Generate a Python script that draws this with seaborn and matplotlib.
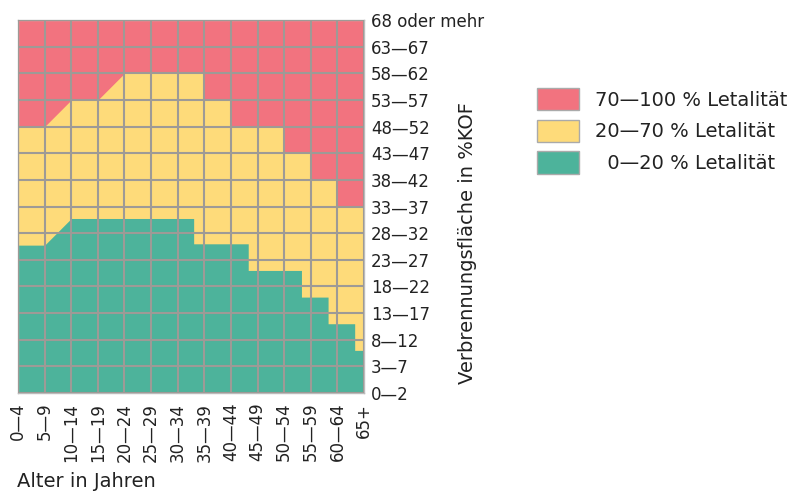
import numpy as np
import pandas as pd
import seaborn as sns
import matplotlib
matplotlib.use("Agg")
import matplotlib.pyplot as plt
from matplotlib.patches import Patch

# ---- data -------------------------------------------------------------
age_labels = ["0—4", "5—9", "10—14", "15—19", "20—24", "25—29", "30—34",
              "35—39", "40—44", "45—49", "50—54", "55—59", "60—64", "65+"]
burn_labels = ["0—2", "3—7", "8—12", "13—17", "18—22", "23—27", "28—32",
               "33—37", "38—42", "43—47", "48—52", "53—57", "58—62",
               "63—67", "68 oder mehr"]

# upper border of the 20-70 % zone (column position, row position)
yellow_x = [0, 1, 2, 3, 4, 7, 7, 8, 8, 10, 10, 11, 11, 12, 12, 13]
yellow_y = [10, 10, 11, 11, 12, 12, 11, 11, 10, 10, 9, 9, 8, 8, 7, 7]

# upper border of the 0-20 % zone
green_x = [0, 1, 2, 6.6, 6.6, 8.65, 8.65, 10.65, 10.65, 11.65, 11.65,
           12.65, 12.65, 13]
green_y = [5.55, 5.55, 6.55, 6.55, 5.6, 5.6, 4.6, 4.6, 3.6, 3.6, 2.6, 2.6,
           1.6, 1.6]

zone_labels = ["70—100 % Letalität", "20—70 % Letalität",
               "\u20070—20 % Letalität"]
zone_colors = ["#F2737F", "#FEDB7A", "#4DB39B"]
grid_color = "#9E9A96"

yellow = pd.DataFrame({"x": yellow_x, "y": yellow_y})
green = pd.DataFrame({"x": green_x, "y": green_y})

# ---- plot -------------------------------------------------------------
sns.set_theme(style="white")
plt.rcParams["font.family"] = ["DejaVu Sans"]

fig = plt.figure(figsize=(7.89, 4.92), dpi=100)
ax = fig.add_axes([18 / 789, 1 - 393 / 492, (364 - 18) / 789, (393 - 20) / 492])

ax.set_facecolor(zone_colors[0])
ax.fill_between(yellow["x"], 0, yellow["y"], color=zone_colors[1], lw=0, zorder=1)
ax.fill_between(green["x"], 0, green["y"], color=zone_colors[2], lw=0, zorder=1.2)

n_cols = len(age_labels) - 1
n_rows = len(burn_labels) - 1
ax.set_xlim(0, n_cols)
ax.set_ylim(0, n_rows)

ax.set_xticks(np.arange(len(age_labels)))
ax.set_xticklabels(age_labels, rotation=90, ha="center", va="top", fontsize=12)
ax.set_yticks(np.arange(len(burn_labels)))
ax.set_yticklabels(burn_labels, fontsize=12)
ax.yaxis.tick_right()
ax.tick_params(axis="x", length=0, pad=7, colors="#222222")
ax.tick_params(axis="y", length=0, pad=5, colors="#222222")

ax.set_axisbelow(False)
ax.grid(True, color=grid_color, lw=1.5)
for s in ax.spines.values():
    s.set_color("#BBBBBB")
    s.set_linewidth(1.0)

fig.text(468 / 789, 1 - 243 / 492, "Verbrennungsfläche in %KOF",
         rotation=90, ha="center", va="center", fontsize=14, color="#222222")
fig.text(17 / 789, 1 - 487 / 492, "Alter in Jahren",
         ha="left", va="baseline", fontsize=14, color="#222222")

handles = [Patch(facecolor=c, edgecolor="#AAAAAA", lw=1.0) for c in zone_colors]
fs = 14.0
fpx = fs * 100 / 72
fig.legend(handles, zone_labels, loc="upper left",
           bbox_to_anchor=(537 / 789, 1 - 88 / 492), frameon=False,
           fontsize=fs, handlelength=42 / fpx, handleheight=27 / fpx,
           handletextpad=0.8, labelspacing=0.48, borderpad=0,
           borderaxespad=0, labelcolor="#222222")

fig.savefig("out.png", dpi=100)
